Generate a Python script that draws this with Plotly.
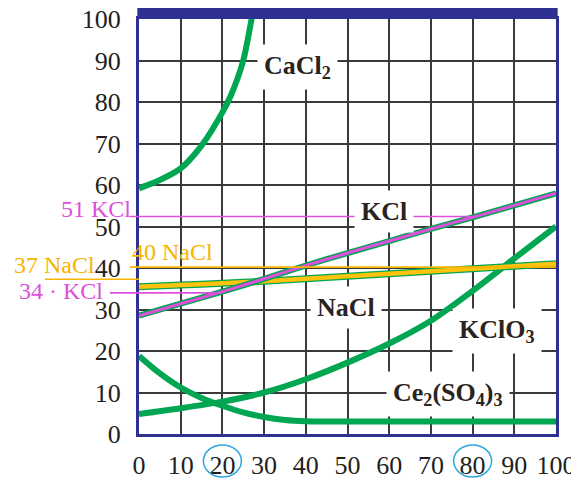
import plotly.graph_objects as go

# ---- data ----
temps = [0, 10, 20, 30, 40, 50, 60, 70, 80, 90, 100]
kcl = [28.5, 31.4, 34.3, 37.4, 40.6, 43.6, 46.5, 49.4, 52.2, 55.1, 58.0]
nacl = [35.5, 35.9, 36.3, 36.8, 37.4, 38.0, 38.6, 39.2, 39.8, 40.4, 41.0]
kclo3 = [4.8, 6.2, 7.8, 10.0, 13.2, 17.2, 21.8, 27.3, 34.5, 42.3, 50.0]
cacl2_t = [0, 5, 10, 15, 20, 22, 25, 27, 28]
cacl2 = [59.2, 61.2, 64.0, 69.5, 77.5, 81.5, 90.0, 100.0, 105.0]
ce_t = [0, 5, 10, 15, 20, 25, 30, 35, 40, 50, 60, 70, 80, 90, 100]
ce = [18.8, 14.6, 11.2, 8.7, 6.8, 5.2, 4.1, 3.4, 3.1, 3.0, 3.0, 3.0, 3.0, 3.0, 3.0]

x_ticks = [0, 10, 20, 30, 40, 50, 60, 70, 80, 90, 100]
y_ticks = [0, 10, 20, 30, 40, 50, 60, 70, 80, 90, 100]
circled_ticks = [20, 80]

# reference lines
ref_labels = ["51 KCl", "34 · KCl", "37 NaCl", "40 NaCl"]
ref_values = [52.4, 34.0, 37.3, 40.2]

curve_labels = ["CaCl<sub>2</sub>", "KCl", "NaCl", "KClO<sub>3</sub>", "Ce<sub>2</sub>(SO<sub>4</sub>)<sub>3</sub>"]
curve_label_x = [38, 58.8, 49.6, 85.9, 74.1]
curve_label_y = [88.4, 53.5, 30.6, 24.8, 9.6]

GREEN = "#00A651"
MAGENTA = "#DE4FDB"
YELLOW = "#FFC20E"
ORANGE = "#F7B500"
NAVY = "#2E3192"
SERIF = "Liberation Serif"

fig = go.Figure()

def line(x, y, color, width):
    fig.add_trace(go.Scatter(x=x, y=y, mode="lines",
                             line=dict(color=color, width=width, shape="spline", smoothing=0.8),
                             hoverinfo="skip", showlegend=False))

line(cacl2_t, cacl2, GREEN, 6)
line(ce_t, ce, GREEN, 6)
line(temps, kclo3, GREEN, 6)
line(temps, nacl, GREEN, 7)
line(temps, nacl, YELLOW, 4.5)
line(temps, kcl, GREEN, 6)
line(temps, kcl, MAGENTA, 3)

# page body has an 8px margin: figure starts at (8, 8) of the window
OFF = 8
L, R, T, B = 139 - OFF, 23, 19 - OFF, 47
W, H = 579 - OFF, 481 - OFF
pw, ph = W - L - R, H - T - B

def px2paper_x(px):
    return (px - OFF - L) / pw

def px2paper_y(py):
    return (H - B - (py - OFF)) / ph

shapes = []
ref_x0 = [px2paper_x(130), px2paper_x(110), px2paper_x(45), px2paper_x(130)]
ref_x1 = [0.80, 0.20, 0.0, 1.0]
ref_col = [MAGENTA, MAGENTA, ORANGE, ORANGE]
for v, a, b, c in zip(ref_values, ref_x0, ref_x1, ref_col):
    shapes.append(dict(type="line", xref="paper", yref="y", x0=a, x1=b, y0=v, y1=v,
                       line=dict(color=c, width=1.6), layer="above"))
# thick top bar
shapes.append(dict(type="rect", xref="paper", yref="paper", x0=-0.004, x1=1.004,
                   y0=1.0, y1=px2paper_y(8), fillcolor=NAVY, line=dict(width=0)))
# circles around tick labels
for t in circled_ticks:
    cx = t / 100
    shapes.append(dict(type="circle", xref="paper", yref="paper",
                       x0=cx - 19 / pw, x1=cx + 19 / pw,
                       y0=px2paper_y(477), y1=px2paper_y(445),
                       line=dict(color="#2BA6DE", width=1.5)))

annotations = []
ref_ax = [px2paper_x(133), px2paper_x(105), px2paper_x(12), px2paper_x(130)]
ref_anchor = ["right", "right", "left", "left"]
ref_shift = [8, 2, 14, 15]
for txt, v, ax, anc, sh, c in zip(ref_labels, ref_values, ref_ax, ref_anchor, ref_shift, ref_col):
    annotations.append(dict(text=txt, xref="paper", yref="y", x=ax, y=v, yshift=sh,
                            xanchor=anc, yanchor="middle", showarrow=False,
                            font=dict(family=SERIF, size=24, color=c)))
for txt, x, y in zip(curve_labels, curve_label_x, curve_label_y):
    annotations.append(dict(text="<b>" + txt + "</b>", x=x, y=y, xref="x", yref="y",
                            showarrow=False, bgcolor="white", borderpad=6,
                            font=dict(family=SERIF, size=26, color="#2a2320")))

axis_common = dict(range=[0, 100], showgrid=True, gridcolor="#3a3a3a", gridwidth=2,
                   zeroline=False, showline=True, linecolor=NAVY, linewidth=3, mirror=True,
                   ticks="outside", tickcolor="rgba(0,0,0,0)", automargin=False,
                   ticklabeloverflow="allow",
                   tickfont=dict(family=SERIF, size=26, color="#231f20"))

fig.update_layout(
    width=W, height=H,
    margin=dict(l=L, r=R, t=T, b=B, pad=0, autoexpand=False),
    paper_bgcolor="white", plot_bgcolor="white",
    xaxis=dict(tickvals=x_ticks, ticktext=[str(v) for v in x_ticks], ticklen=6, **axis_common),
    yaxis=dict(tickvals=y_ticks, ticktext=[str(v) for v in y_ticks], ticklen=10, **axis_common),
    shapes=shapes, annotations=annotations,
)

fig.write_html("out.html")
